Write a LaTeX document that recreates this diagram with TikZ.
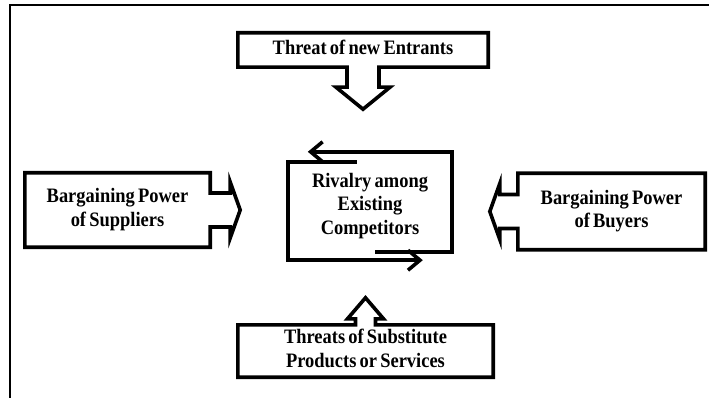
\documentclass[tikz,border=0pt]{standalone}
\usepackage{fontspec}
\usepackage{graphicx}
\setmainfont{Liberation Serif}[WordSpace=0.7]
\usetikzlibrary{calc,arrows.meta}

% narrow, tall bold lettering set as a centred block
\newcommand\squeeze[1]{\scalebox{0.9}[1]{\begin{tabular}{@{}c@{}}#1\end{tabular}}}

\tikzset{
  outline/.style={line width=3.6pt, line join=miter},
  frameline/.style={line width=2pt},
  forcebox/.style={rectangle, inner sep=0pt, align=center,
    font=\bfseries\fontsize{20.5}{23.5}\selectfont},
  loop/.style={line width=3.6pt, line join=miter,
    -{Straight Barb[length=12pt,width=20pt,line join=miter]}},
}

\begin{document}
\begin{tikzpicture}[x=1pt,y=-1pt]
  \useasboundingbox (0,0) rectangle (709,398);

  % page frame (top and left rules)
  \draw[frameline] (709,5.5) -- (9.5,5.5) -- (9.5,398);

  % the five forces
  \node[forcebox, minimum width=250pt, minimum height=34pt] (entrants) at (363,50) {\squeeze{Threat of new Entrants}};
  \node[forcebox, minimum width=185pt, minimum height=74pt] (suppliers) at (117.5,210) {\squeeze{Bargaining Power\\of Suppliers}};
  \node[forcebox, minimum width=187pt, minimum height=76pt] (buyers) at (611.5,211.5) {\squeeze{Bargaining Power\\of Buyers}};
  \node[forcebox, minimum width=255pt, minimum height=52pt] (substitutes) at (365.5,351) {\squeeze{Threats of Substitute\\Products or Services}};
  \node[forcebox, minimum width=164pt, minimum height=108pt] (rivalry) at (370,206) {\squeeze{Rivalry among\\Existing\\Competitors}};

  % new entrants: box with a block arrow pointing down
  \draw[outline] (entrants.north west) -- (entrants.north east) -- (entrants.south east)
    -- ($(entrants.south)+(16,0)$) -- ++(0,20) -- ++(11,0)
    -- ($(entrants.south)+(0,42)$)
    -- ($(entrants.south)+(-27,20)$) -- ++(11,0)
    -- ($(entrants.south)+(-16,0)$) -- (entrants.south west) -- cycle;

  % suppliers: block arrow pointing right
  \draw[outline] (suppliers.north west) -- (suppliers.north east)
    -- ($(suppliers.east)+(0,-17)$) -- ++(20,0) -- ++(0,-11)
    -- ($(suppliers.east)+(30,0)$)
    -- ($(suppliers.east)+(20,28)$) -- ++(0,-11)
    -- ($(suppliers.east)+(0,17)$) -- (suppliers.south east) -- (suppliers.south west) -- cycle;

  % buyers: block arrow pointing left
  \draw[outline] (buyers.north east) -- (buyers.north west)
    -- ($(buyers.west)+(0,-17)$) -- ++(-18,0) -- ++(0,-11)
    -- ($(buyers.west)+(-28,0)$)
    -- ($(buyers.west)+(-18,28)$) -- ++(0,-11)
    -- ($(buyers.west)+(0,17)$) -- (buyers.south west) -- (buyers.south east) -- cycle;

  % substitutes: block arrow pointing up
  \draw[outline] (substitutes.south west) -- (substitutes.north west)
    -- ($(substitutes.north)+(-10,0)$) -- ++(0,-6) -- ++(-8,0)
    -- ($(substitutes.north)+(0,-27)$)
    -- ($(substitutes.north)+(18,-6)$) -- ++(-8,0)
    -- ($(substitutes.north)+(10,0)$) -- (substitutes.north east) -- (substitutes.south east) -- cycle;

  % rivalry: two interlocking arrows forming the box
  \draw[loop] ($(rivalry.south east)+(-77,-8)$) -- ($(rivalry.south east)+(0,-8)$)
    -- (rivalry.north east) -- ($(rivalry.north west)+(20,0)$);
  \draw[loop] ($(rivalry.north west)+(69,10)$) -- ($(rivalry.north west)+(0,10)$)
    -- (rivalry.south west) -- ($(rivalry.south west)+(135,0)$);
\end{tikzpicture}
\end{document}
